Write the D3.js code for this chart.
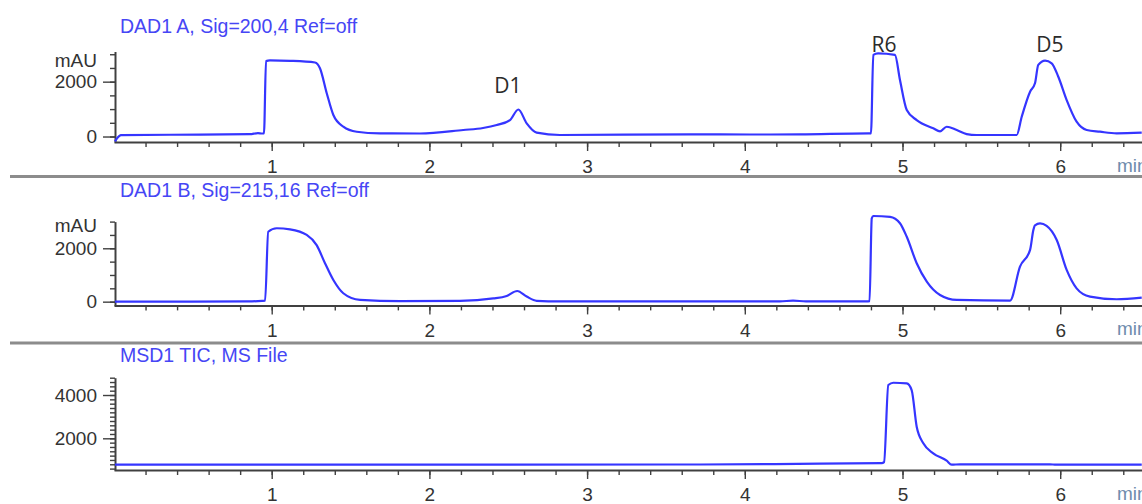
<!DOCTYPE html>
<html>
<head>
<meta charset="utf-8">
<script src="https://cdn.jsdelivr.net/npm/d3@7"></script>
<style>
  body { margin: 0; background: #fff; }
  svg { display: block; }
  text { font-family: Arial, "Liberation Sans", sans-serif; }
</style>
</head>
<body>
<div id="chart"></div>
<script>
var width = 1142,
    height = 504;

// DAD1 A, 200 nm : retention time (min) / mAU
var dadATime  = [0.006, 0.019, 0.044, 0.545, 0.862, 0.913, 0.938, 0.951, 0.964, 0.989, 1.116, 1.275, 1.306, 1.349, 1.391, 1.454, 1.539, 1.687, 1.940, 2.215, 2.340, 2.427, 2.511, 2.564, 2.617, 2.680, 2.828, 3.653, 4.033, 4.350, 4.783, 4.800, 4.815, 4.845, 4.952, 4.984, 5.027, 5.090, 5.195, 5.238, 5.280, 5.344, 5.407, 5.470, 5.724, 5.756, 5.809, 5.840, 5.861, 5.904, 5.946, 5.988, 6.041, 6.104, 6.168, 6.252, 6.358, 6.517];
var dadAValue = [-180, -70, 50, 70, 85, 125, 110, 110, 2750, 2775, 2760, 2700, 2490, 1580, 785, 360, 175, 117, 110, 237, 310, 420, 600, 985, 480, 140, 55, 80, 73, 80, 117, 110, 2975, 3030, 2975, 2060, 967, 600, 300, 185, 357, 237, 90, 55, 55, 720, 1635, 1940, 2610, 2770, 2670, 2180, 1330, 540, 237, 175, 117, 140];

// DAD1 B, 215 nm
var dadBTime  = [0.006, 0.850, 0.938, 0.958, 0.978, 1.032, 1.116, 1.222, 1.285, 1.338, 1.391, 1.454, 1.560, 1.814, 2.194, 2.405, 2.490, 2.557, 2.617, 2.680, 2.828, 4.223, 4.306, 4.388, 4.773, 4.791, 4.805, 4.815, 4.921, 4.984, 5.027, 5.090, 5.154, 5.238, 5.344, 5.682, 5.745, 5.809, 5.830, 5.840, 5.872, 5.914, 5.978, 6.041, 6.104, 6.189, 6.358, 6.517];
var dadBValue = [0, 10, 30, 40, 2620, 2750, 2710, 2500, 2120, 1440, 810, 315, 64, 20, 30, 120, 215, 400, 190, 30, 10, 10, 40, 10, 10, 20, 3120, 3210, 3180, 2940, 2430, 1440, 750, 250, 64, 37, 1310, 1940, 2690, 2860, 2930, 2840, 2310, 1190, 500, 190, 90, 150];

// MSD1 TIC
var ticTime  = [0.006, 3.716, 4.477, 4.868, 4.883, 4.910, 4.942, 5.027, 5.058, 5.090, 5.132, 5.195, 5.280, 5.312, 5.364, 5.935, 5.973, 6.517];
var ticValue = [780, 790, 830, 850, 900, 4460, 4566, 4538, 4229, 2535, 1769, 1308, 966, 780, 800, 800, 780, 780];

var titles  = ["DAD1 A, Sig=200,4 Ref=off", "DAD1 B, Sig=215,16 Ref=off", "MSD1 TIC, MS File"];
var xTicks  = [1, 2, 3, 4, 5, 6];
var yTicksA = [0, 2000];
var yTicksB = [0, 2000];
var yTicksC = [2000, 4000];

var peakNames  = ["D1", "R6", "D5"];
var peakTimes  = [2.498, 4.883, 5.935];
var peakLevels = [1570, 3100, 3100];

var svg = d3.select("#chart").append("svg")
    .attr("width", width)
    .attr("height", height);

var x = d3.scaleLinear()
    .domain([0, 6.6])
    .range([114, 114 + 6.6 * 157.7]);

var panels = [
  { title: titles[0], time: dadATime, value: dadAValue, ticks: yTicksA, minor: 500,
    domain: [-200, 3100], range: [142, 51.5], titleY: 33, unit: "mAU", unitY: 67 },
  { title: titles[1], time: dadBTime, value: dadBValue, ticks: yTicksB, minor: 500,
    domain: [-140, 3000], range: [305.4, 221.6], titleY: 197, unit: "mAU", unitY: 231.5 },
  { title: titles[2], time: ticTime, value: ticValue, ticks: yTicksC, minor: 200,
    domain: [536, 4800], range: [470, 377.7], titleY: 361.5, unit: null }
];

// grey separators between the panels
[176.5, 343].forEach(function(yy) {
  svg.append("line")
    .attr("x1", 10).attr("x2", width)
    .attr("y1", yy).attr("y2", yy)
    .attr("stroke", "#8c8c8c")
    .attr("stroke-width", 3);
});

function styleAxis(g, w) {
  g.selectAll("path.domain").attr("stroke", "#404040").attr("stroke-width", w);
  g.selectAll(".tick line").attr("stroke", "#404040").attr("stroke-width", 1.4);
  g.selectAll(".tick text")
    .attr("fill", "#333")
    .style("font-size", "19px")
    .style("font-family", "Arial, 'Liberation Sans', sans-serif");
}

panels.forEach(function(p) {
  var y = d3.scaleLinear().domain(p.domain).range(p.range);
  var g = svg.append("g");

  g.append("text")
    .attr("x", 120).attr("y", p.titleY)
    .attr("fill", "#4646f5")
    .style("font-size", "19.5px")
    .text(p.title);

  // y minor ticks
  var lo = Math.ceil(p.domain[0] / p.minor) * p.minor;
  var gym = g.append("g")
      .attr("transform", "translate(115,0)")
      .call(d3.axisLeft(y).tickValues(d3.range(lo, p.domain[1] + 1, p.minor)).tickSize(5).tickFormat(""));
  gym.select("path.domain").remove();
  styleAxis(gym, 2);

  // y major ticks + axis line
  var gy = g.append("g")
      .attr("transform", "translate(115,0)")
      .call(d3.axisLeft(y).tickValues(p.ticks).tickSize(12).tickPadding(6).tickSizeOuter(0).tickFormat(d3.format("d")));
  styleAxis(gy, 2);

  // x minor ticks
  var gxm = g.append("g")
      .attr("transform", "translate(0," + p.range[0] + ")")
      .call(d3.axisBottom(x).tickValues(d3.range(0.2, 6.6, 0.2)).tickSize(5).tickFormat(""));
  gxm.select("path.domain").remove();
  styleAxis(gxm, 2);

  // x major ticks + axis line
  var gx = g.append("g")
      .attr("transform", "translate(0," + p.range[0] + ")")
      .call(d3.axisBottom(x).tickValues(xTicks).tickSize(9).tickPadding(9).tickSizeOuter(0).tickFormat(d3.format("d")));
  styleAxis(gx, 2);

  // unit label runs off the right edge, as in the original export
  g.append("text")
    .attr("x", 1117).attr("y", p.range[0] + 30)
    .attr("fill", "#6f8cad")
    .style("font-size", "19px")
    .text("min");

  if (p.unit) {
    g.append("text")
      .attr("x", 97).attr("y", p.unitY)
      .attr("text-anchor", "end")
      .attr("fill", "#333")
      .style("font-size", "19px")
      .text(p.unit);
  }

  var pts = p.time.map(function(t, i) { return [t, p.value[i]]; });
  var line = d3.line()
      .x(function(d) { return x(d[0]); })
      .y(function(d) { return y(d[1]); })
      .curve(d3.curveMonotoneX);

  g.append("path")
    .datum(pts)
    .attr("d", line)
    .attr("fill", "none")
    .attr("stroke", "#3535ff")
    .attr("stroke-width", 2.2)
    .attr("stroke-linejoin", "round");

  p.y = y;
});

// peak names over the first trace
var yA = panels[0].y;
svg.selectAll("text.peak")
  .data(peakNames)
  .enter().append("text")
    .attr("class", "peak")
    .attr("x", function(d, i) { return x(peakTimes[i]); })
    .attr("y", function(d, i) { return yA(peakLevels[i]); })
    .attr("text-anchor", "middle")
    .attr("fill", "#2b2b2b")
    .style("font-family", "'Open Sans', sans-serif")
    .style("font-size", "21px")
    .text(function(d) { return d; });
</script>
</body>
</html>
